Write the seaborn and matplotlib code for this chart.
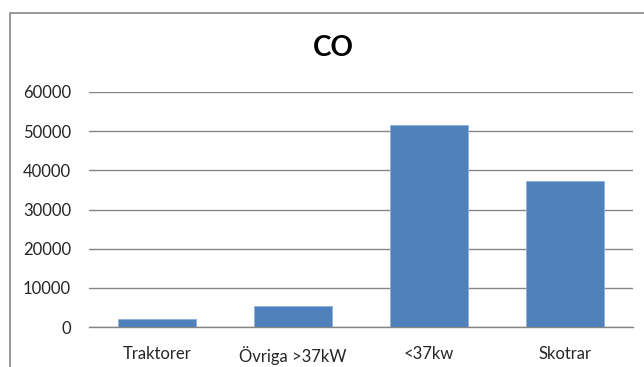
import matplotlib
matplotlib.use("Agg")
import matplotlib.pyplot as plt
import seaborn as sns
import pandas as pd
from matplotlib.patches import Rectangle

categories = ["Traktorer", "Övriga >37kW", "<37kw", "Skotrar"]
values = [2100, 5400, 51600, 37200]
yticks = [0, 10000, 20000, 30000, 40000, 50000, 60000]

df = pd.DataFrame({"kategori": categories, "CO": values})

sns.set_style("white")
plt.rcParams["font.family"] = ["Lato", "DejaVu Sans"]

W, H = 644, 367
fig = plt.figure(figsize=(W / 100, H / 100), dpi=100)

# outer chart frame
fig.patches.append(Rectangle((10 / W, -0.1), 1.2, (H - 13) / H + 0.1,
                             transform=fig.transFigure, fill=False,
                             edgecolor="#868686", linewidth=1.2))

ax = fig.add_axes([89 / W, 40 / H, 544 / W, 235 / H])
sns.barplot(data=df, x="kategori", y="CO", color="#4F81BD", width=0.57,
            saturation=1, edgecolor="#8DB0DA", linewidth=0.6, ax=ax, zorder=3)

ax.set_ylim(0, 60000)
ax.set_yticks(yticks)
ax.set_yticklabels([str(v) for v in yticks])
ax.yaxis.grid(True, color="#868686", linewidth=1)
ax.set_axisbelow(True)
for s in ["top", "right", "left"]:
    ax.spines[s].set_visible(False)
ax.spines["bottom"].set_color("#868686")
ax.spines["bottom"].set_linewidth(1)
ax.tick_params(axis="both", length=0, labelsize=12, colors="#262626")
ax.tick_params(axis="y", pad=13)
ax.tick_params(axis="x", pad=14)
ax.set_xlabel("")
ax.set_ylabel("")

fig.text(333 / W, 1 - 48 / H, "CO", ha="center", va="center",
         fontsize=20, fontweight="bold", color="black")

fig.savefig("out.png", dpi=100)
